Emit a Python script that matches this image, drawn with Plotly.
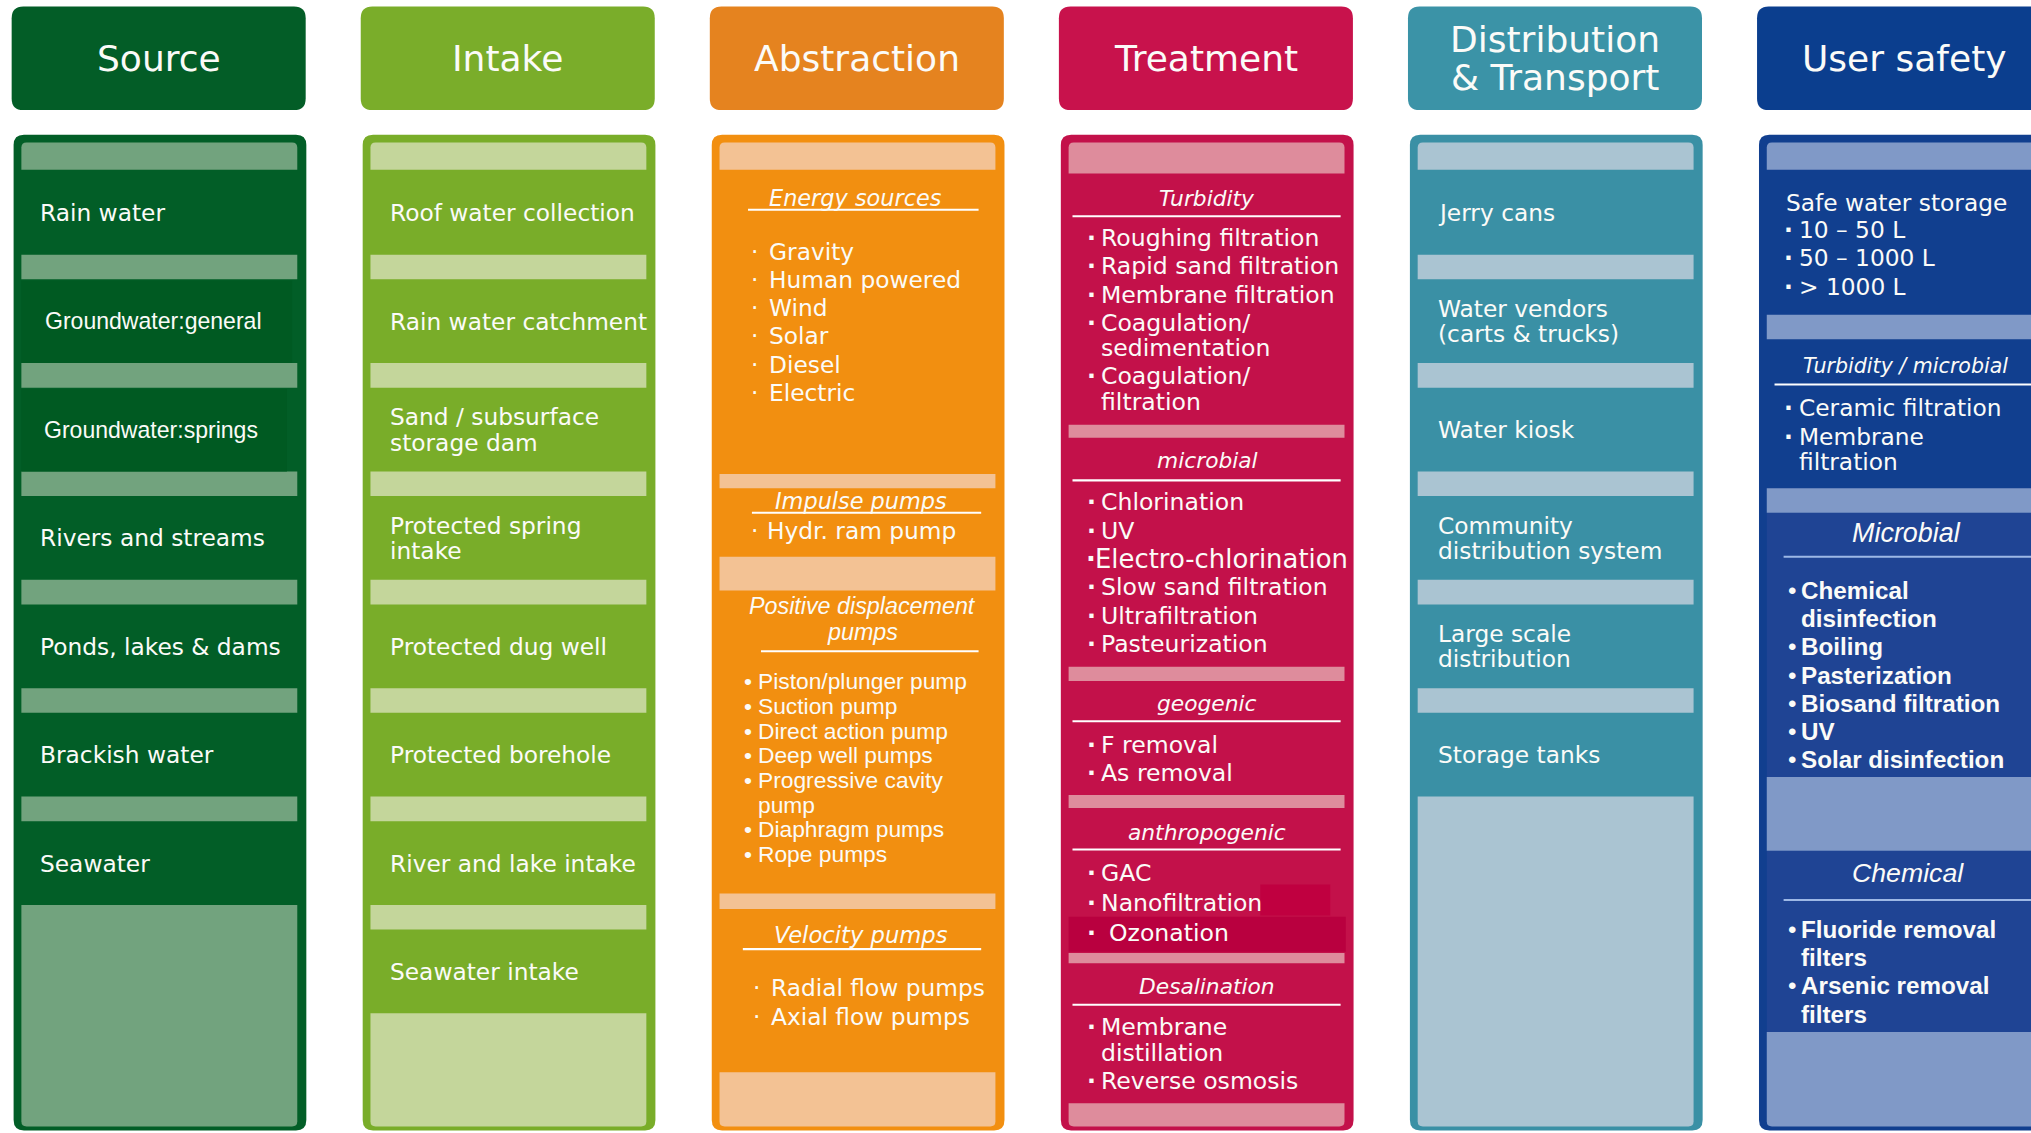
import plotly.graph_objects as go

# ---------------- data ----------------
STAGES = ["Source", "Intake", "Abstraction", "Treatment", "Distribution\n& Transport", "User safety"]

SOURCE_ITEMS = ["Rain water", "Groundwater:general", "Groundwater:springs", "Rivers and streams",
                "Ponds, lakes & dams", "Brackish water", "Seawater"]
INTAKE_ITEMS = ["Roof water collection", "Rain water catchment", "Sand / subsurface\nstorage dam",
                "Protected spring\nintake", "Protected dug well", "Protected borehole",
                "River and lake intake", "Seawater intake"]
DISTRIBUTION_ITEMS = ["Jerry cans", "Water vendors\n(carts & trucks)", "Water kiosk",
                      "Community\ndistribution system", "Large scale\ndistribution", "Storage tanks"]

ABSTRACTION_HEADS = ["Energy sources", "Impulse pumps", "Positive displacement\npumps", "Velocity pumps"]
ENERGY_SOURCES = ["Gravity", "Human powered", "Wind", "Solar", "Diesel", "Electric"]
IMPULSE_PUMPS = ["Hydr. ram pump"]
POSITIVE_DISPLACEMENT = ["Piston/plunger pump", "Suction pump", "Direct action pump", "Deep well pumps",
                         "Progressive cavity\npump", "Diaphragm pumps", "Rope pumps"]
VELOCITY_PUMPS = ["Radial flow pumps", "Axial flow pumps"]

TREATMENT_HEADS = ["Turbidity", "microbial", "geogenic", "anthropogenic", "Desalination"]
TURBIDITY = ["Roughing filtration", "Rapid sand filtration", "Membrane filtration",
             "Coagulation/\nsedimentation", "Coagulation/\nfiltration"]
MICROBIAL = ["Chlorination", "UV", "Electro-chlorination", "Slow sand filtration", "Ultrafiltration",
             "Pasteurization"]
GEOGENIC = ["F removal", "As removal"]
ANTHROPOGENIC = ["GAC", "Nanofiltration", "Ozonation"]
DESALINATION = ["Membrane\ndistillation", "Reverse osmosis"]

SAFETY_HEADS = ["Safe water storage", "Turbidity / microbial", "Microbial", "Chemical"]
SAFE_STORAGE = ["10 \u2013 50 L", "50 \u2013 1000 L", "> 1000 L"]
SAFETY_TURB_MICRO = ["Ceramic filtration", "Membrane\nfiltration"]
SAFETY_MICROBIAL = ["Chemical\ndisinfection", "Boiling", "Pasterization", "Biosand filtration", "UV",
                    "Solar disinfection"]
SAFETY_CHEMICAL = ["Fluoride removal\nfilters", "Arsenic removal\nfilters"]

# ---------------- styles / layout ----------------
W, H = 2031, 1133
VW, VH = 1568.0, 875.0
S = W / VW

COLORS = [
    dict(head="#035d27", body="#025e27", band="#72a37e"),
    dict(head="#7aad2a", body="#79ad29", band="#c4d69b"),
    dict(head="#e5831f", body="#f28f10", band="#f3c294"),
    dict(head="#c8124c", body="#c3114a", band="#de8c9c"),
    dict(head="#3b93a7", body="#3a90a5", band="#aac4d2"),
    dict(head="#0b3e8e", body="#113f8f", band="#8099c7"),
]
FR = "DejaVu Sans"
AR = "Liberation Sans"
TXT = "#fbfbf8"

HEAD_X0, PITCH, HEAD_W = 9.0, 269.5, 227.0
BODY_W = 226.0
HEAD_Y0, HEAD_Y1 = 5.0, 85.0
BODY_Y0, BODY_Y1 = 104.0, 873.0
INNER_BOTTOM = 870.0

shapes, ann = [], []


def rpath(x0, y0, x1, y1, rt=0.0, rb=0.0):
    return (f"M{x0+rt},{y0} L{x1-rt},{y0} Q{x1},{y0} {x1},{y0+rt} "
            f"L{x1},{y1-rb} Q{x1},{y1} {x1-rb},{y1} L{x0+rb},{y1} Q{x0},{y1} {x0},{y1-rb} "
            f"L{x0},{y0+rt} Q{x0},{y0} {x0+rt},{y0} Z")


def rect(x0, y0, x1, y1, color, rt=0.0, rb=0.0):
    shapes.append(dict(type="path", xref="x", yref="y", path=rpath(x0, y0, x1, y1, rt, rb),
                       fillcolor=color, line=dict(width=0), layer="below"))


def hline(x0, x1, y, color="white", w=1.6):
    shapes.append(dict(type="line", xref="x", yref="y", x0=x0, x1=x1, y0=y, y1=y,
                       line=dict(color=color, width=w * S), layer="above"))


def text(x, y, s, size, family=FR, anchor="left", italic=False, bold=False, color=TXT):
    ann.append(dict(x=x, y=y, xref="x", yref="y", text=s, showarrow=False, xanchor=anchor,
                    yanchor="middle", font=dict(size=size * S, family=family, color=color,
                                                style="italic" if italic else "normal",
                                                weight=700 if bold else 400)))


def col_x(i):
    hx = HEAD_X0 + PITCH * i
    return hx, hx + 1.5


# headers + body frames
for i, name in enumerate(STAGES):
    hx, bx = col_x(i)
    c = COLORS[i]
    rect(hx, HEAD_Y0, hx + HEAD_W, HEAD_Y1, c["head"], 9, 9)
    lines = name.split("\n")
    cy = (HEAD_Y0 + HEAD_Y1) / 2
    for j, ln in enumerate(lines):
        yy = cy + (j - (len(lines) - 1) / 2) * 29.5
        text(hx + HEAD_W / 2, yy, ln, 27.8, anchor="center")
    rect(bx, BODY_Y0, bx + BODY_W, BODY_Y1, c["body"], 8, 8)


def bands(i, spans):
    _, bx = col_x(i)
    for k, (y0, y1) in enumerate(spans):
        rt = 4 if k == 0 else 0
        rb = 4 if y1 >= INNER_BOTTOM else 0
        rect(bx + 6, y0, bx + BODY_W - 7, y1, COLORS[i]["band"], rt, rb)


# ---------- row-type columns (Source, Intake, Distribution) ----------
ROW_START, ROW_PITCH, BAND_H = 113.0, 83.7, 19.0


def row_column(i, items, tx_off=19.5, special=None):
    _, bx = col_x(i)
    n = len(items)
    spans = [(110.0, 131.0)]
    for k in range(1, n):
        t = ROW_START + ROW_PITCH * k
        spans.append((t, t + BAND_H))
    spans.append((ROW_START + ROW_PITCH * n, INNER_BOTTOM))
    bands(i, spans)
    for k, item in enumerate(items):
        yc = (spans[k][1] + spans[k + 1][0]) / 2
        fam, size, xo = FR, 18.0, tx_off
        if special and item in special:
            fam, size, xo, box_right = special[item]
            rect(bx + 6, spans[k][1] + 1, bx + box_right, spans[k + 1][0], "#005a22")
        lines = item.split("\n")
        for j, ln in enumerate(lines):
            text(bx + xo, yc + (j - (len(lines) - 1) / 2) * 19.5, ln, size, family=fam)


row_column(0, SOURCE_ITEMS, 19.0,
           special={"Groundwater:general": (AR, 17.8, 23.0, 215),
                    "Groundwater:springs": (AR, 17.8, 22.0, 211)})
row_column(1, INTAKE_ITEMS, 19.5)
row_column(4, DISTRIBUTION_ITEMS, 20.0)


# ---------- section-type columns ----------
def section(i, head_lines, head_y, head_cx, ul, items, y0, ip, lp, bxo, txo, size,
            fam=FR, bullet="\u00b7", hsize=16.0, hfam=FR, bold=False, overrides=None,
            ucolor="white", hbold=False, bullet_bold=False):
    _, bx = col_x(i)
    for j, ln in enumerate(head_lines):
        text(bx + head_cx, head_y[j], ln, hsize, family=hfam, anchor="center", italic=True, bold=hbold)
    if ul is not None:
        hline(bx + ul[0], bx + ul[1], ul[2], color=ucolor)
    y = y0
    for item in items:
        lines = item.split("\n")
        b_x, t_x, sz = bxo, txo, size
        if overrides and item in overrides:
            b_x, t_x, sz = overrides[item]
        for j, ln in enumerate(lines):
            yy = y + j * lp
            if j == 0 and bullet:
                text(bx + b_x, yy, bullet, sz, family=fam, bold=bullet_bold)
            text(bx + t_x, yy, ln, sz, family=fam, bold=bold)
        y += (len(lines) - 1) * lp + ip


# Abstraction (col 2)
bands(2, [(110, 131), (366, 377), (430, 456), (690, 702), (828, INNER_BOTTOM)])
section(2, [ABSTRACTION_HEADS[0]], [153], 111, (28, 206, 162), ENERGY_SOURCES, 194, 21.8, 21.8,
        29, 43, 18.0, hsize=17.3)
section(2, [ABSTRACTION_HEADS[1]], [387], 115, (31, 208, 396), IMPULSE_PUMPS, 410, 21.8, 21.8,
        29, 41, 18.0, hsize=17.3)
section(2, ABSTRACTION_HEADS[2].split("\n"), [468, 488], 116, (38, 206, 503), POSITIVE_DISPLACEMENT,
        526, 19.1, 19.1, 23, 34, 17.6, fam=AR, bullet="\u2022", hsize=18.0, hfam=AR)
section(2, [ABSTRACTION_HEADS[3]], [722], 115, (24, 208, 733), VELOCITY_PUMPS, 763, 22, 22,
        30, 44, 18.0, hsize=17.5)

# Treatment (col 3)
_, tbx = col_x(3)
bands(3, [(110, 134), (328, 338), (515, 526), (614, 624), (736, 744), (852, INNER_BOTTOM)])
rect(tbx + 154, 683, tbx + 208, 707, "#c00040")
rect(tbx + 6, 708, tbx + 220, 735, "#b9003f")
TUL = (9, 216)
TS = 18.2
section(3, [TREATMENT_HEADS[0]], [153], 113, (*TUL, 167), TURBIDITY, 184, 21.8, 19.5, 18.5, 29.5, TS,
        hsize=16.8, bullet_bold=True)
section(3, [TREATMENT_HEADS[1]], [356], 113, (*TUL, 371), MICROBIAL, 388, 21.9, 19.5, 18.5, 29.5, TS,
        hsize=16.8, bullet_bold=True, overrides={"Electro-chlorination": (18, 24.5, 20.0)})
section(3, [TREATMENT_HEADS[2]], [543], 113, (*TUL, 557), GEOGENIC, 575, 22, 19.5, 18.5, 29.5, TS,
        hsize=16.8, bullet_bold=True)
section(3, [TREATMENT_HEADS[3]], [643], 113, (*TUL, 656), ANTHROPOGENIC, 674, 23.3, 19.5, 18.5, 29.5,
        TS, hsize=16.8, bullet_bold=True, overrides={"Ozonation": (19, 36, TS)})
section(3, [TREATMENT_HEADS[4]], [762], 113, (*TUL, 776), DESALINATION, 793, 22, 20, 18.5, 29.5, TS,
        hsize=16.8, bullet_bold=True)

# User safety (col 5)
_, ubx = col_x(5)
rect(ubx + 6, 396, ubx + 240, 600, "#1f4494")
rect(ubx + 6, 657, ubx + 240, 797, "#1f4494")
bands(5, [(110, 131), (243, 262), (377, 396), (600, 657), (797, INNER_BOTTOM)])
text(ubx + 19, 156, SAFETY_HEADS[0], 18.0)
section(5, [], [], 0, None, SAFE_STORAGE, 177, 22, 22, 18, 29, 18.0, bullet_bold=True)
section(5, [SAFETY_HEADS[1]], [283], 113, (12, 215, 297), SAFETY_TURB_MICRO, 315, 22, 19.5, 18, 29,
        18.0, hsize=15.9, bullet_bold=True)
section(5, [SAFETY_HEADS[2]], [412], 114, (19, 215, 430), SAFETY_MICROBIAL, 456, 21.8, 21.8, 21, 31,
        18.7, fam=AR, bullet="\u2022", hsize=20.8, hfam=AR, bold=True, ucolor="#9db8e6")
section(5, [SAFETY_HEADS[3]], [674], 115, (19, 215, 695), SAFETY_CHEMICAL, 718, 21.6, 21.8, 21, 31,
        18.7, fam=AR, bullet="\u2022", hsize=20.6, hfam=AR, bold=True, ucolor="#9db8e6")

fig = go.Figure()
fig.update_layout(
    width=W, height=H, margin=dict(l=0, r=0, t=0, b=0), autosize=False,
    paper_bgcolor="white", plot_bgcolor="white", showlegend=False,
    xaxis=dict(range=[0, VW], visible=False, fixedrange=True),
    yaxis=dict(range=[VH, 0], visible=False, fixedrange=True),
    shapes=shapes, annotations=ann,
)
fig.write_html("out.html", config={"displayModeBar": False},
               post_script="document.body.style.margin='0';document.body.style.overflow='hidden';")
